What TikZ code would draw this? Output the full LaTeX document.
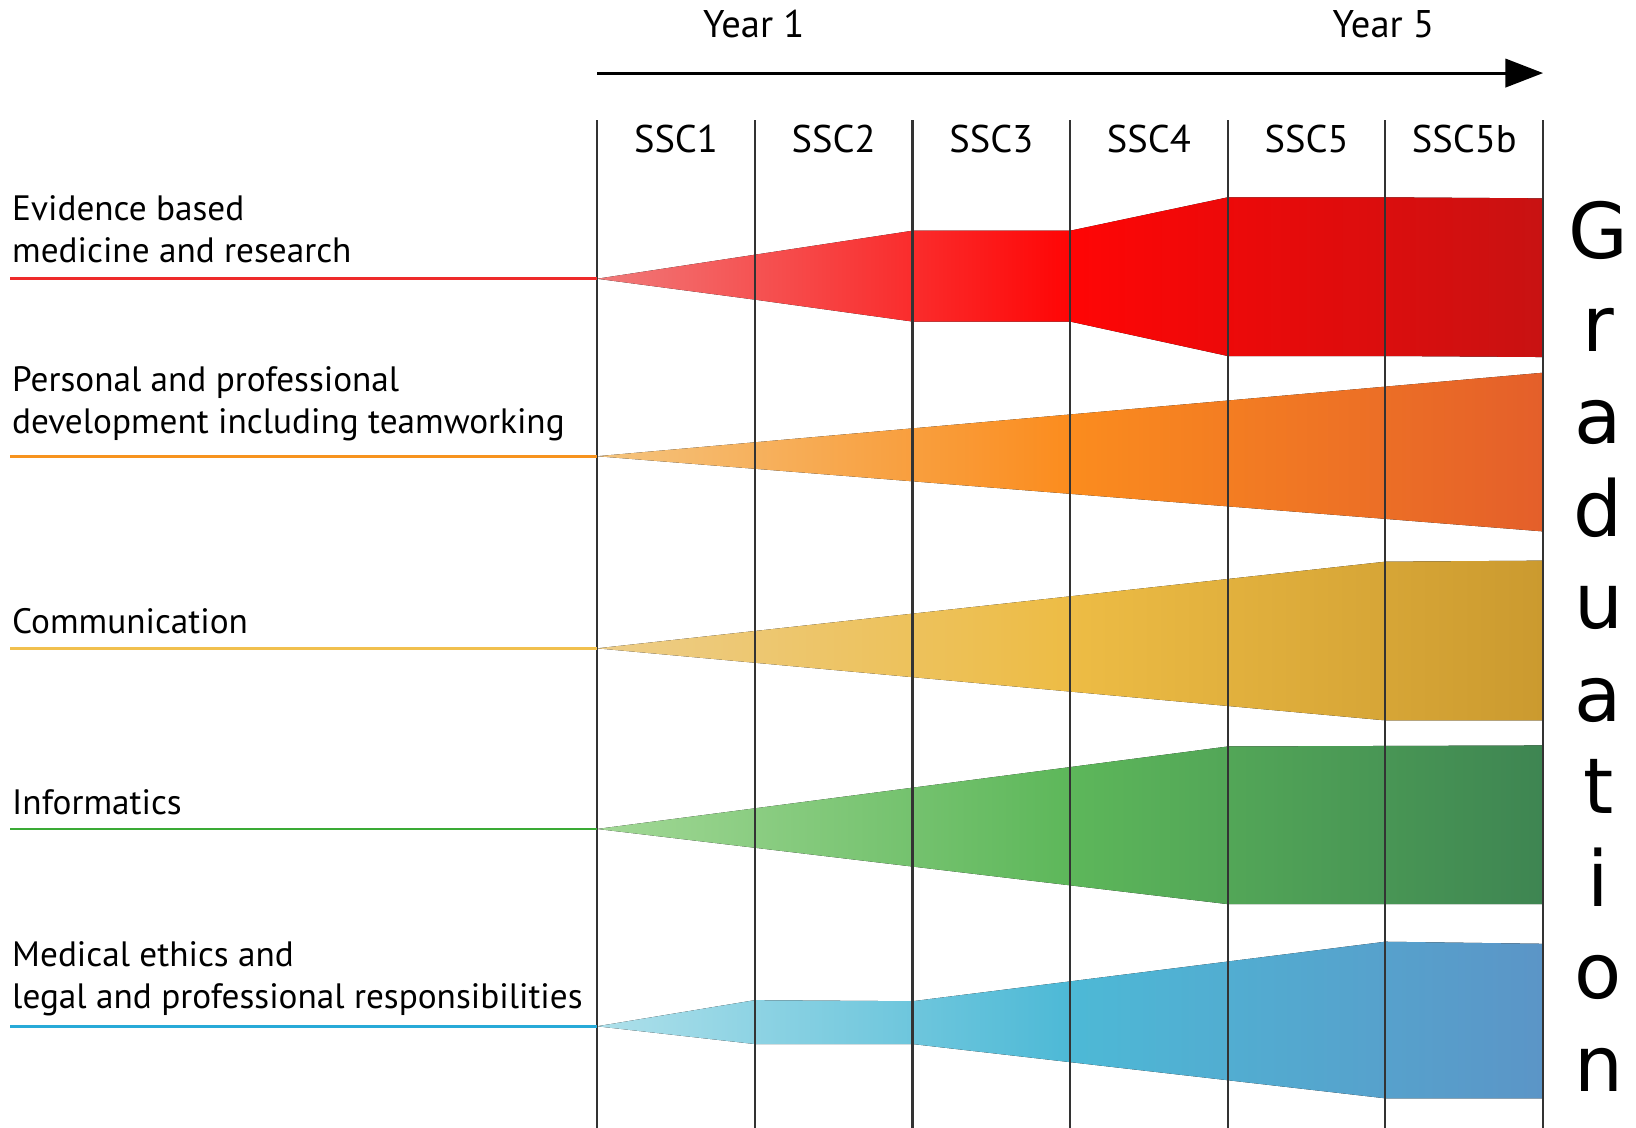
\documentclass[tikz,border=0pt]{standalone}
\usepackage{fontspec}
\setmainfont{PT Sans}
\newfontfamily\gradfont{DejaVu Sans}
\usetikzlibrary{arrows.meta}

\definecolor{ebmline}{HTML}{EE2A2A}
\definecolor{ppdline}{HTML}{F7931E}
\definecolor{comline}{HTML}{F1C04E}
\definecolor{infline}{HTML}{3AAA35}
\definecolor{ethline}{HTML}{27AAD8}

\begin{document}
\begin{tikzpicture}[x=0.01cm, y=-0.01cm,
    gridline/.style={draw=black!80, line width=0.55pt},
    topicline/.style={line width=0.7pt},
    topic/.style={anchor=base west, inner sep=0pt, align=left, font=\fontsize{9.6}{11.45}\selectfont},
    ssclabel/.style={anchor=base, inner sep=0pt, font=\fontsize{10.5}{12}\selectfont},
    gradletter/.style={anchor=base, inner sep=0pt, font=\gradfont\fontsize{21}{21}\selectfont}]

        \useasboundingbox (0,0) rectangle (1567,1080);

        % Time axis
        \coordinate (tstart) at (572,70);
        \coordinate (tend) at (1478,70);
        \draw[line width=0.85pt, -{Triangle[length=0.36cm, width=0.27cm]}] (tstart) -- (tend);
        \node[ssclabel] (year1) at (722,36) {Year 1};
        \node[ssclabel] (year5) at (1325,36) {Year 5};

        % Red band: evidence based medicine
        \fill[left color={rgb,255:red,240;green,122;blue,122}, right color={rgb,255:red,200;green,18;blue,18}, middle color={rgb,255:red,255;green,5;blue,5}]
            (572,267) -- (723,244) -- (874,221) -- (1025,221) -- (1176,189) -- (1327,189) -- (1478,190)
            -- (1478,342) -- (1327,341) -- (1176,341) -- (1025,308) -- (874,308) -- (723,287) -- cycle;

        % Orange band: personal and professional development
        \fill[left color={rgb,255:red,244;green,196;blue,126}, right color={rgb,255:red,228;green,95;blue,42}, middle color={rgb,255:red,251;green,140;blue,30}]
            (572,437) -- (1478,357) -- (1478,509) -- cycle;

        % Yellow band: communication
        \fill[left color={rgb,255:red,237;green,205;blue,136}, right color={rgb,255:red,203;green,154;blue,47}, middle color={rgb,255:red,237;green,188;blue,69}]
            (572,621) -- (1327,538) -- (1478,537) -- (1478,690) -- (1327,690) -- cycle;

        % Green band: informatics
        \fill[left color={rgb,255:red,162;green,216;blue,150}, right color={rgb,255:red,62;green,133;blue,82}, middle color={rgb,255:red,93;green,183;blue,90}]
            (572,794) -- (1176,715) -- (1478,714) -- (1478,866) -- (1176,866) -- cycle;

        % Blue band: medical ethics
        \fill[left color={rgb,255:red,174;green,224;blue,234}, right color={rgb,255:red,91;green,149;blue,199}, middle color={rgb,255:red,77;green,185;blue,214}]
            (572,983) -- (723,958) -- (874,959) -- (1327,902) -- (1478,904)
            -- (1478,1052) -- (1327,1052) -- (874,1000) -- (723,1000) -- cycle;

        % Column lines
        \foreach \x [count=\i] in {572,723,874,1025,1176,1327,1478} {
            \coordinate (top\i) at (\x,115);
            \coordinate (bot\i) at (\x,1080);
            \draw[gridline] (top\i) -- (bot\i);
        }

        % Column labels
        \node[ssclabel] (ssc1) at (647.5,146) {SSC1};
        \node[ssclabel] (ssc2) at (798.5,146) {SSC2};
        \node[ssclabel] (ssc3) at (949.5,146) {SSC3};
        \node[ssclabel] (ssc4) at (1100.5,146) {SSC4};
        \node[ssclabel] (ssc5) at (1251.5,146) {SSC5};
        \node[ssclabel] (ssc5b) at (1402.5,146) {SSC5b};

        % Topics
        \node[topic] (ebm) at (11,251.6) {Evidence based\\medicine and research};
        \coordinate (ebmleft) at (10,267);
        \coordinate (ebmtip) at (572,267);
        \draw[topicline, ebmline] (ebmleft) -- (ebmtip);

        \node[topic] (ppd) at (11,415) {Personal and professional\\development including teamworking};
        \coordinate (ppdleft) at (10,437);
        \coordinate (ppdtip) at (572,437);
        \draw[topicline, ppdline] (ppdleft) -- (ppdtip);

        \node[topic] (com) at (11,606.5) {Communication};
        \coordinate (comleft) at (10,621);
        \coordinate (comtip) at (572,621);
        \draw[topicline, comline] (comleft) -- (comtip);

        \node[topic] (inf) at (11,780.5) {Informatics};
        \coordinate (infleft) at (10,794);
        \coordinate (inftip) at (572,794);
        \draw[topicline, infline] (infleft) -- (inftip);

        \node[topic] (eth) at (11,966) {Medical ethics and\\legal and professional responsibilities};
        \coordinate (ethleft) at (10,983);
        \coordinate (ethtip) at (572,983);
        \draw[topicline, ethline] (ethleft) -- (ethtip);

        % Graduation
        \foreach \l [count=\i from 0] in {G,r,a,d,u,a,t,i,o,n}
            \node[gradletter] (grad\i) at (1531,{248+88.6*\i}) {\l};

    \end{tikzpicture}
\end{document}
